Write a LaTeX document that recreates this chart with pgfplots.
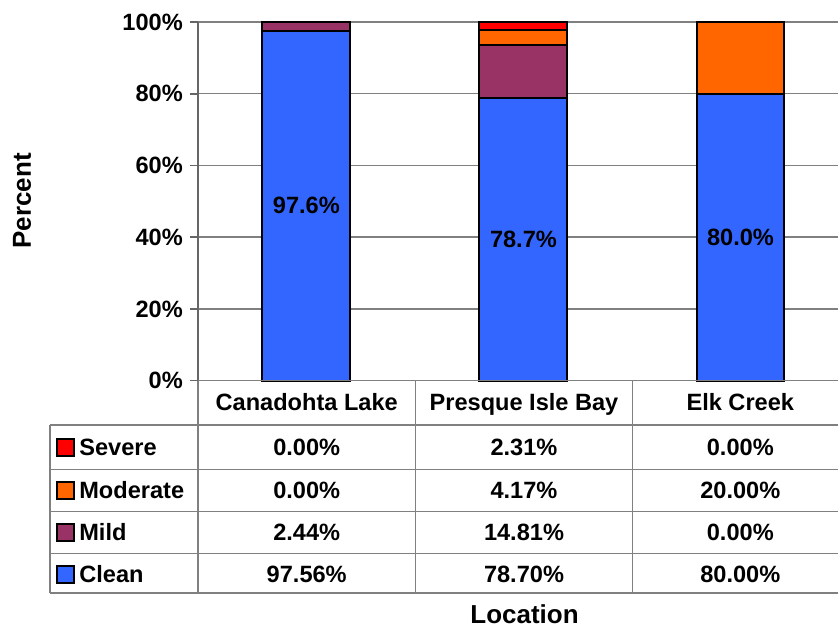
\documentclass[border=0pt]{standalone}
\usepackage{fontspec}
\setmainfont{Liberation Sans}
\usepackage{pgfplots}
\pgfplotsset{compat=1.18}
\definecolor{clean}{HTML}{3366FF}
\definecolor{mild}{HTML}{993366}
\definecolor{moderate}{HTML}{FF6600}
\definecolor{severe}{HTML}{FF0000}
\definecolor{linegray}{HTML}{808080}
\newcommand{\tf}{\fontsize{11.8}{14}\selectfont\bfseries}
\begin{document}
\begin{tikzpicture}
\begin{scope}[x=0.5pt,y=-0.5pt]
\useasboundingbox (0,0) rectangle (839,630);
\end{scope}
\begin{axis}[
  at={(99pt,-190.5pt)}, anchor=south west,
  scale only axis, width=320.5pt, height=179.5pt,
  ybar stacked, bar width=44pt,
  xmin=-0.5, xmax=2.45, ymin=0, ymax=100,
  xtick=\empty, ytick={0,20,...,100},
  axis x line*=bottom, axis y line*=left,
  axis line style={draw=linegray!80!black, line width=0.8pt},
  tick align=outside, major tick length=4pt,
  ytick style={draw=linegray!80!black, line width=0.8pt},
  yticklabel={\pgfmathprintnumber{\tick}\%},
  /pgf/number format/assume math mode=true,
  yticklabel style={font=\tf},
  ymajorgrids, grid style={draw=linegray, line width=0.7pt},
  clip=false,
]
\addplot[fill=clean, draw=black, line width=1pt,
  nodes near coords={\pgfmathprintnumber[fixed,fixed zerofill,precision=1]{\pgfplotspointmeta}\%},
  every node near coord/.append style={font=\tf, text=black, anchor=center},
  ] coordinates {(0,97.56) (1,78.70) (2,80.00)};
\addplot[fill=mild, draw=black, line width=1pt] coordinates {(0,2.44) (1,14.81) (2,0)};
\addplot[fill=moderate, draw=black, line width=1pt] coordinates {(0,0) (1,4.17) (2,20.00)};
\addplot[fill=severe, draw=black, line width=1pt] coordinates {(0,0) (1,2.31) (2,0)};
\end{axis}
\begin{scope}[x=0.5pt,y=-0.5pt]
  \draw[linegray, line width=0.8pt] (198,381) -- (839,381);
  \foreach \yy in {425.5,470,512,554,593.5}
    \draw[linegray, line width=0.8pt] (50,\yy) -- (839,\yy);
  \draw[linegray, line width=0.8pt] (50,425.5) -- (50,593.5);
  \foreach \xx in {198,416,633}
    \draw[linegray, line width=0.8pt] (\xx,381) -- (\xx,593.5);
  % header
  \node[font=\tf, anchor=base] at (307,411) {Canadohta Lake};
  \node[font=\tf, anchor=base] at (524.5,411) {Presque Isle Bay};
  \node[font=\tf, anchor=base] at (741,411) {Elk Creek};
  % legend keys and row names
  \foreach \yy/\cc/\nn in {448/severe/Severe,491/moderate/Moderate,533/mild/Mild,575/clean/Clean}{
    \draw[black, line width=0.7pt, fill=\cc] (57,\yy-8.5) rectangle (74,\yy+8.5);
    \node[font=\tf, anchor=west, inner sep=0pt] at (79,\yy) {\nn};
  }
  % values
  \node[font=\tf] at (307,448) {0.00\%};
  \node[font=\tf] at (524.5,448) {2.31\%};
  \node[font=\tf] at (741,448) {0.00\%};
  \node[font=\tf] at (307,491) {0.00\%};
  \node[font=\tf] at (524.5,491) {4.17\%};
  \node[font=\tf] at (741,491) {20.00\%};
  \node[font=\tf] at (307,533) {2.44\%};
  \node[font=\tf] at (524.5,533) {14.81\%};
  \node[font=\tf] at (741,533) {0.00\%};
  \node[font=\tf] at (307,575) {97.56\%};
  \node[font=\tf] at (524.5,575) {78.70\%};
  \node[font=\tf] at (741,575) {80.00\%};
  % axis titles
  \node[font=\fontsize{13}{15}\selectfont\bfseries, rotate=90] at (22,201) {Percent};
  \node[font=\fontsize{13}{15}\selectfont\bfseries] at (525,615) {Location};
\end{scope}
\end{tikzpicture}
\end{document}
